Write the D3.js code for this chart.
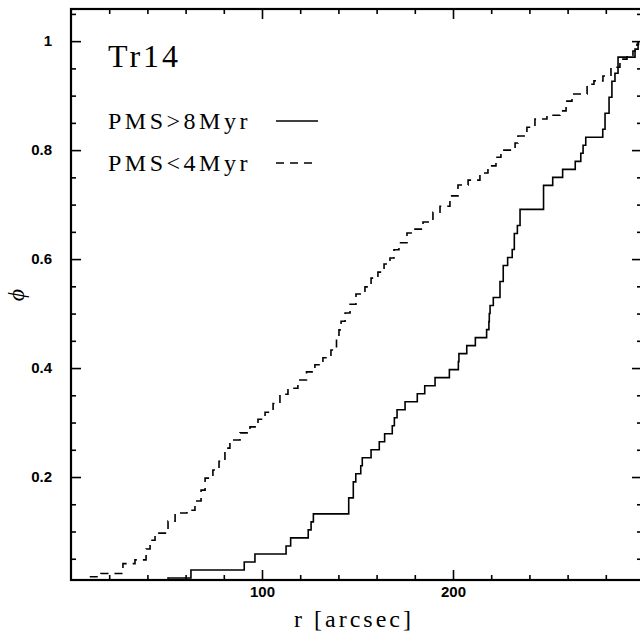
<!DOCTYPE html>
<html>
<head>
<meta charset="utf-8">
<script src="https://cdn.jsdelivr.net/npm/d3@7"></script>
<style>
  body { margin: 0; background: #fff; }
  svg { display: block; }
  .tick text { font-family: "Liberation Sans", Arial, sans-serif; font-weight: bold; font-size: 15px; fill: #000; }
  .tick line { stroke: #000; stroke-width: 1.6; }
  .serif { font-family: "Liberation Serif", "Times New Roman", serif; fill: #000; }
</style>
</head>
<body>
<div id="chart"></div>
<script>
// PMS > 8 Myr : sorted radii (arcsec), one entry per star
const rOld = [50.8, 62.8, 90.7, 96.3, 112.6, 115.0, 124.2, 125.7, 126.9,
  145.4, 145.4, 147.8, 147.8, 149.1, 151.7, 152.5, 157.1, 161.4, 164.2,
  168.2, 169.3, 170.7, 174.9, 181.3, 185.2, 190.6, 198.1, 202.8, 203.1,
  207.2, 211.7, 217.6, 218.8, 219.0, 219.4, 221.1, 224.6, 224.6, 226.3,
  226.3, 228.6, 231.0, 232.1, 232.1, 233.7, 235.1, 235.1, 247.4, 247.4,
  247.4, 252.2, 257.4, 264.0, 266.9, 268.1, 269.5, 278.4, 279.6, 279.6,
  281.7, 281.7, 283.2, 283.2, 284.8, 286.4, 286.4, 295.3, 296.9];

// PMS < 4 Myr : step corners
const rYoung = [8.9, 15.7, 27.2, 33.5, 39.3, 41.4, 44.0, 50.8, 54.5, 60.7,
  64.9, 68.1, 70.2, 74.3, 77.5, 80.6, 83.2, 88.5, 93.7, 97.9, 101.6, 105.8,
  109.4, 113.6, 118.8, 123.3, 127.7, 131.9, 136.1, 139.0, 140.3, 141.4,
  143.5, 146.1, 149.2, 153.9, 157.1, 160.7, 163.9, 167.0, 169.1, 171.7,
  175.9, 180.1, 184.3, 189.5, 193.2, 198.4, 202.6, 207.9, 214.1, 218.3,
  222.5, 225.1, 232.5, 234.0, 238.7, 242.9, 249.2, 256.0, 259.2, 262.3,
  270.2, 273.8, 278.5, 282.7, 287.4, 291.1, 294.2, 296.3, 297.1];
const phiYoung = [0.017, 0.023, 0.041, 0.048, 0.068, 0.084, 0.097, 0.119,
  0.134, 0.139, 0.156, 0.176, 0.198, 0.213, 0.229, 0.253, 0.268, 0.281,
  0.292, 0.306, 0.319, 0.335, 0.352, 0.363, 0.378, 0.393, 0.406, 0.419,
  0.433, 0.451, 0.470, 0.486, 0.501, 0.517, 0.536, 0.549, 0.565, 0.576,
  0.591, 0.602, 0.617, 0.630, 0.648, 0.655, 0.668, 0.686, 0.697, 0.716,
  0.736, 0.745, 0.758, 0.771, 0.787, 0.800, 0.813, 0.826, 0.842, 0.857,
  0.864, 0.872, 0.890, 0.903, 0.921, 0.927, 0.936, 0.952, 0.967, 0.974,
  0.982, 0.994, 1.0];

const xMajor = [100, 200];
const yMajor = [0.2, 0.4, 0.6, 0.8, 1];
const legendLabels = ["PMS>8Myr", "PMS<4Myr"];
const clusterName = "Tr14";

const W = 640, H = 635;
// right edge of the frame sits just past the canvas, as in the original
const plot = { left: 71, right: 642, top: 9, bottom: 580 };

const x = d3.scaleLinear().domain([0, 298.95]).range([plot.left, plot.right]);
const y = d3.scaleLinear().domain([0.011, 1.059]).range([plot.bottom, plot.top]);

const svg = d3.select("#chart").append("svg").attr("width", W).attr("height", H);

svg.append("clipPath").attr("id", "clip").append("rect")
  .attr("x", plot.left).attr("y", plot.top)
  .attr("width", plot.right - plot.left).attr("height", plot.bottom - plot.top);

// minor tick positions
const xMinor = d3.range(20, 297, 20).filter(v => !xMajor.includes(v));
const yMinor = d3.range(1, 22).map(i => +(i * 0.05).toFixed(2)).filter(v => !yMajor.includes(v));

const fmtY = d => d === 1 ? "1" : d3.format(".1f")(d);

const addAxis = (axis, transform) => {
  const g = svg.append("g").attr("transform", transform).call(axis);
  g.select(".domain").remove();
  return g;
};

// bottom / top
addAxis(d3.axisBottom(x).tickValues(xMajor).tickSizeInner(-10).tickSizeOuter(0).tickPadding(18).tickFormat(d3.format("d")),
  `translate(0,${plot.bottom})`).selectAll("text").attr("dy", "-0.1em");
addAxis(d3.axisBottom(x).tickValues(xMinor).tickSizeInner(-5).tickSizeOuter(0).tickFormat(""), `translate(0,${plot.bottom})`);
addAxis(d3.axisTop(x).tickValues(xMajor).tickSizeInner(-10).tickSizeOuter(0).tickFormat(""), `translate(0,${plot.top})`);
addAxis(d3.axisTop(x).tickValues(xMinor).tickSizeInner(-5).tickSizeOuter(0).tickFormat(""), `translate(0,${plot.top})`);

// left / right
addAxis(d3.axisLeft(y).tickValues(yMajor).tickSizeInner(-10).tickSizeOuter(0).tickPadding(19).tickFormat(fmtY),
  `translate(${plot.left},0)`);
addAxis(d3.axisLeft(y).tickValues(yMinor).tickSizeInner(-5).tickSizeOuter(0).tickFormat(""), `translate(${plot.left},0)`);
addAxis(d3.axisRight(y).tickValues(yMajor).tickSizeInner(-10).tickSizeOuter(0).tickFormat(""), `translate(${plot.right},0)`);
addAxis(d3.axisRight(y).tickValues(yMinor).tickSizeInner(-5).tickSizeOuter(0).tickFormat(""), `translate(${plot.right},0)`);

// frame
svg.append("rect")
  .attr("x", plot.left).attr("y", plot.top)
  .attr("width", plot.right - plot.left).attr("height", plot.bottom - plot.top)
  .attr("fill", "none").attr("stroke", "#000").attr("stroke-width", 2.2);

// cumulative curves
const step = d3.line().x(d => x(d[0])).y(d => y(d[1])).curve(d3.curveStepAfter);

const oldPts = [[0, 0]].concat(rOld.map((r, i) => [r, (i + 1) / rOld.length]));
const youngPts = [[0, 0]].concat(rYoung.map((r, i) => [r, phiYoung[i]]));

const curves = svg.append("g").attr("clip-path", "url(#clip)");
curves.append("path").datum(oldPts).attr("d", step)
  .attr("fill", "none").attr("stroke", "#000").attr("stroke-width", 1.6);
curves.append("path").datum(youngPts).attr("d", step)
  .attr("fill", "none").attr("stroke", "#000").attr("stroke-width", 1.6)
  .attr("stroke-dasharray", "8,6");

// title + legend
svg.append("text").attr("class", "serif").attr("x", 108).attr("y", 67)
  .attr("font-size", 32).attr("letter-spacing", 3).text(clusterName);

const legend = svg.append("g");
legendLabels.forEach((lab, i) => {
  const ly = 121 + i * 42;
  legend.append("text").attr("class", "serif").attr("x", 108).attr("y", ly + 8)
    .attr("font-size", 24).attr("letter-spacing", 3.5).text(lab);
  legend.append("line").attr("x1", 276).attr("x2", 318).attr("y1", ly).attr("y2", ly)
    .attr("stroke", "#000").attr("stroke-width", 1.6)
    .attr("stroke-dasharray", i === 0 ? null : "8,6");
});

// axis titles
svg.append("text").attr("class", "serif").attr("x", 354).attr("y", 627)
  .attr("text-anchor", "middle").attr("font-size", 24).attr("letter-spacing", 3)
  .text("r [arcsec]");
svg.append("text").attr("class", "serif")
  .attr("transform", "translate(24,295) rotate(-90)")
  .attr("text-anchor", "middle").attr("font-size", 24).attr("font-style", "italic")
  .text("ϕ");
</script>
</body>
</html>
